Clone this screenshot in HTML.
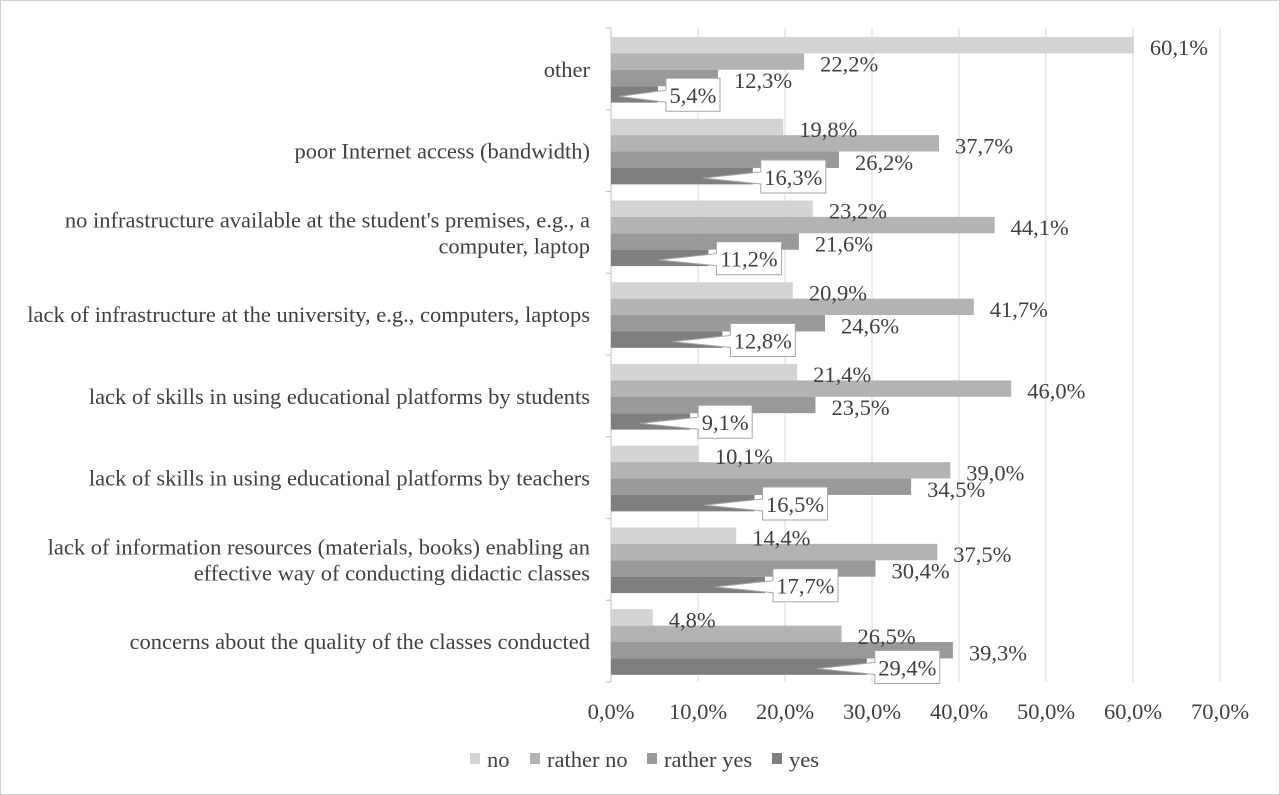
<!DOCTYPE html>
<html><head><meta charset="utf-8"><style>
body{margin:0;background:#fff;}
svg{display:block;font-family:"Liberation Serif",serif;}
</style></head><body>
<svg id="c" width="1280" height="795"></svg>
<script>
const categories=["other","poor Internet access (bandwidth)","no infrastructure available at the student's premises, e.g., a|computer, laptop","lack of infrastructure at the university, e.g., computers, laptops","lack of skills in using educational platforms by students","lack of skills in using educational platforms by teachers","lack of information resources (materials, books) enabling an|effective way of conducting didactic classes","concerns about the quality of the classes conducted"];
const seriesNames=["no","rather no","rather yes","yes"];
const noVals=[60.1,19.8,23.2,20.9,21.4,10.1,14.4,4.8];
const ratherNoVals=[22.2,37.7,44.1,41.7,46.0,39.0,37.5,26.5];
const ratherYesVals=[12.3,26.2,21.6,24.6,23.5,34.5,30.4,39.3];
const yesVals=[5.4,16.3,11.2,12.8,9.1,16.5,17.7,29.4];
const ticks=[0,10,20,30,40,50,60,70];
const colors=["#d4d4d4","#b3b3b3","#999999","#7f7f7f"];
const NS="http://www.w3.org/2000/svg";
const svg=document.getElementById('c');
const x0=611,pxPer=8.7,top0=28,gh=81.75,bh=16.4,FS=22.5;
const X=v=>x0+v*pxPer;
function el(t,a,p){const e=document.createElementNS(NS,t);for(const k in a)e.setAttribute(k,a[k]);(p||svg).appendChild(e);return e;}
const fmt=v=>v.toFixed(1).replace('.',',')+'%';
const border=el('rect',{x:0.5,y:0.5,width:1279,height:794,fill:'none',stroke:'#d0d0d0'});


ticks.forEach(t=>{
  if(t>0){const g=el('line',{x1:X(t),x2:X(t),y1:top0,y2:top0+gh*8,stroke:'#d9d9d9'});
  
  }
  const tl=el('text',{x:X(t),y:719,'text-anchor':'middle','font-size':FS,fill:'#404040'});tl.textContent=fmt(t);
  
  
});
const ax=el('line',{x1:x0,x2:x0,y1:top0,y2:top0+gh*8,stroke:'#bfbfbf'});


for(let i=0;i<=8;i++){const tk=el('line',{x1:x0-5,x2:x0,y1:top0+gh*i,y2:top0+gh*i,stroke:'#bfbfbf'});

}
const series=[noVals,ratherNoVals,ratherYesVals,yesVals];
categories.forEach((c,i)=>{
  const gt=top0+gh*i;
  const lines=c.split('|');
  lines.forEach((ln,j)=>{
    const t=el('text',{x:590,y:gt+gh/2+8+(j-(lines.length-1)/2)*26,'text-anchor':'end','font-size':FS,fill:'#404040'});
    t.textContent=ln;
    
    
  });
  series.forEach((s,k)=>{
    const v=s[i],y=gt+9+k*bh;
    const r=el('rect',{x:x0,y:y,width:X(v)-x0,height:bh,fill:colors[k]});
    
    
  });
});
categories.forEach((c,i)=>{
  const gt=top0+gh*i;
  series.forEach((s,k)=>{
    const v=s[i],y=gt+9+k*bh;
    if(k<3){
      const t=el('text',{x:X(v)+16,y:y+bh/2+10,'font-size':FS,fill:'#404040'});t.textContent=fmt(v);
      
      
    }else{
      const bx=X(v)+8,by=y-8,bw=fmt(v).length*11+10,bhh=33;
      const px=Math.max(x0+8,X(v)-50),py=y+bh/2+2;
      const co=el('path',{d:`M${bx},${by} H${bx+bw} V${by+bhh} H${bx} V${by+24} L${px},${py} L${bx},${by+12} Z`,fill:'#fff',stroke:'#a6a6a6'});
      
      
      const t=el('text',{x:bx+bw/2,y:by+25,'text-anchor':'middle','font-size':FS,fill:'#404040'});t.textContent=fmt(v);
      
      
    }
  });
});
const legX=[470,530,647,772];
seriesNames.forEach((n,k)=>{
  const r=el('rect',{x:legX[k],y:753,width:10,height:11,fill:colors[k]});
  
  
  const t=el('text',{x:legX[k]+17,y:767,'font-size':FS,fill:'#404040'});t.textContent=n;
  
  
});
</script>
</body></html>
